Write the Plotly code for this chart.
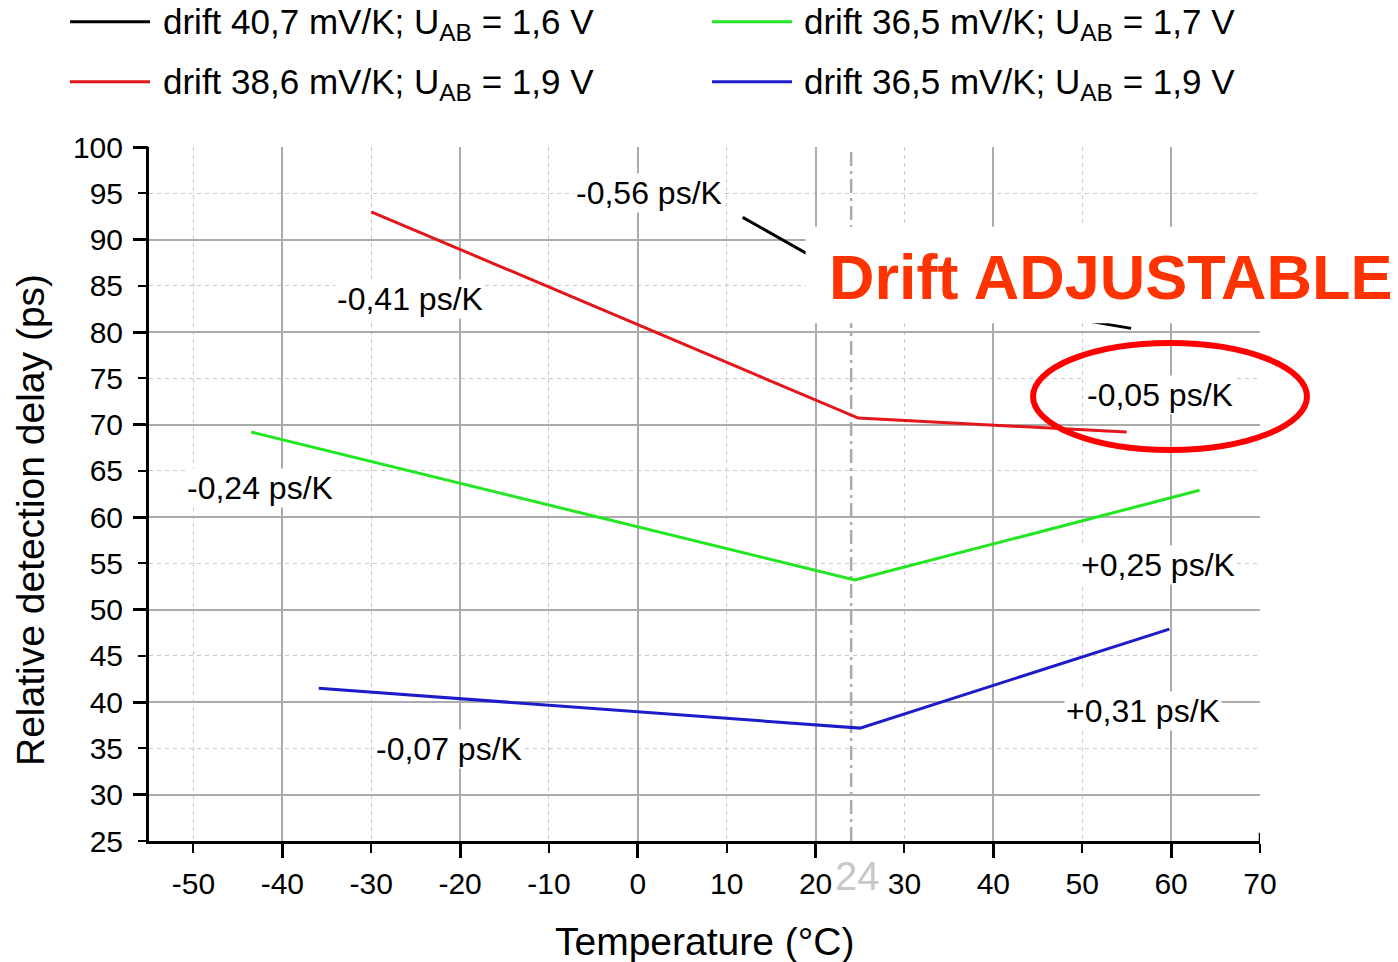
import plotly.graph_objects as go

# ---------------- data ----------------
black_t = [11.8, 24.5, 55.5]
black_v = [92.4, 85.5, 80.4]
red_t = [-30.0, 24.8, 55.0]
red_v = [93.0, 70.7, 69.2]
green_t = [-43.5, 24.4, 63.2]
green_v = [69.2, 53.2, 62.9]
blue_t = [-35.9, 25.0, 59.8]
blue_v = [41.5, 37.2, 47.9]

series_names = [
    "drift 40,7 mV/K; U<sub>AB</sub> = 1,6 V",
    "drift 38,6 mV/K; U<sub>AB</sub> = 1,9 V",
    "drift 36,5 mV/K; U<sub>AB</sub> = 1,7 V",
    "drift 36,5 mV/K; U<sub>AB</sub> = 1,9 V",
]
series_colors = ["#000000", "#e3161c", "#22e622", "#1c1cc8"]

slope_labels = ["-0,56 ps/K", "-0,41 ps/K", "-0,24 ps/K", "+0,25 ps/K",
                "+0,31 ps/K", "-0,07 ps/K", "-0,05 ps/K"]
REF_T = 24
x_range = [-55, 70]
y_range = [25, 100]
x_tick_vals = [-50, -40, -30, -20, -10, 0, 10, 20, 30, 40, 50, 60, 70]
x_tick_text = ["-50", "-40", "-30", "-20", "-10", "0", "10", "20", "30", "40",
               "50", "60", "70"]
y_tick_vals = [25, 30, 35, 40, 45, 50, 55, 60, 65, 70, 75, 80, 85, 90, 95, 100]
y_tick_text = [str(v) for v in y_tick_vals]
x_title = "Temperature (°C)"
y_title = "Relative detection delay (ps)"

# label anchor positions (data coords)
label_t = [1.3, -25.6, -42.5, 58.5, 56.8, -21.2, 58.7]
label_v = [95.0, 83.6, 63.15, 54.8, 39.05, 34.9, 73.2]

FONT = "Liberation Sans, Arial, sans-serif"

fig = go.Figure()

for t, v, c in zip([black_t, red_t, green_t, blue_t],
                   [black_v, red_v, green_v, blue_v], series_colors):
    fig.add_trace(go.Scatter(x=t, y=v, mode="lines", xaxis="x2", yaxis="y2",
                             line=dict(color=c, width=3), showlegend=False,
                             hoverinfo="skip"))

# dummy trace on main axes so they render
fig.add_trace(go.Scatter(x=[None], y=[None], mode="lines", showlegend=False))

fig.update_layout(
    width=1398, height=962,
    margin=dict(l=149, r=138, t=147, b=121),
    paper_bgcolor="white", plot_bgcolor="white",
    font=dict(family=FONT, color="black"),
    showlegend=False,
    xaxis=dict(range=x_range, tickmode="array", tickvals=x_tick_vals,
               ticktext=x_tick_text, ticks="outside", ticklen=9,
               tickwidth=2, tickcolor="black", showgrid=True, gridcolor="#c8c8c8",
               gridwidth=1, griddash="4px,4px", showline=True, linecolor="black",
               linewidth=3, zeroline=False, tickfont=dict(size=30),
               ticklabelstandoff=5, automargin=False),
    yaxis=dict(range=y_range, tickmode="array", tickvals=y_tick_vals,
               ticktext=y_tick_text, ticks="outside", ticklen=8,
               tickwidth=2, tickcolor="black", showgrid=True, gridcolor="#c8c8c8",
               gridwidth=1, griddash="4px,4px", showline=True, linecolor="black",
               linewidth=3, zeroline=False, tickfont=dict(size=30),
               ticklabelstandoff=9, automargin=False),
    xaxis2=dict(range=x_range, overlaying="x", anchor="y2", side="bottom",
                tick0=-40, dtick=20, ticks="outside", ticklen=16, tickwidth=3,
                tickcolor="black", showticklabels=False, showgrid=True,
                gridcolor="#ababab", gridwidth=1.5, showline=False, zeroline=False),
    yaxis2=dict(range=y_range, overlaying="y", anchor="x2", side="left",
                tick0=30, dtick=10, ticks="outside", ticklen=15, tickwidth=3,
                tickcolor="black", showticklabels=False, showgrid=True,
                gridcolor="#ababab", gridwidth=1.5, showline=False, zeroline=False),
)

shapes = []
# reference temperature line
shapes.append(dict(type="line", xref="x2", yref="paper", x0=REF_T, x1=REF_T, y0=0, y1=1,
                   line=dict(color="#aaaaaa", width=2.5, dash="14px,5px,3px,5px"),
                   layer="below"))
# white box behind the big headline
shapes.append(dict(type="rect", xref="paper", yref="paper", x0=0.591, x1=1.2,
                   y0=0.746, y1=0.885, fillcolor="white", line=dict(width=0),
                   layer="above"))
# red ellipse
shapes.append(dict(type="circle", xref="paper", yref="paper", x0=0.7957, x1=1.0423,
                   y0=0.5634, y1=0.7176, line=dict(color="#ff0000", width=6),
                   layer="above"))
# axis end cap at the right end of the x axis
shapes.append(dict(type="line", xref="x2", yref="paper", x0=x_range[1], x1=x_range[1],
                   y0=0, y1=0.012, line=dict(color="black", width=2.5), layer="above"))

annotations = []
for txt, t, v in zip(slope_labels, label_t, label_v):
    annotations.append(dict(text=txt, x=t, y=v, xref="x", yref="y", showarrow=False,
                            font=dict(size=32, color="black"), bgcolor="white",
                            xanchor="center", yanchor="middle"))

annotations.append(dict(text="<b>Drift ADJUSTABLE</b>", x=0.8659, y=0.8127,
                        xref="paper", yref="paper", showarrow=False,
                        font=dict(size=63, color="#ff3300"),
                        xanchor="center", yanchor="middle"))

annotations.append(dict(text=str(REF_T), x=REF_T, y=-0.0508, xref="x", yref="paper",
                        xshift=6, showarrow=False, font=dict(size=40, color="#c8c8c8"),
                        xanchor="center", yanchor="middle"))

# axis titles
annotations.append(dict(text=x_title, x=0.5009, y=-0.1441, xref="paper", yref="paper",
                        showarrow=False, font=dict(size=39, color="black"),
                        xanchor="center", yanchor="middle"))
annotations.append(dict(text=y_title, x=-0.1071, y=0.4625,
                        xref="paper", yref="paper", showarrow=False, textangle=-90,
                        font=dict(size=39, color="black"),
                        xanchor="center", yanchor="middle"))

# custom legend (2 columns x 2 rows)
leg_line_x = [(-0.0711, 0.0009), (0.5068, 0.5788)]
leg_text_x = [0.0108, 0.5878]
leg_row_y = [1.1775, 1.0911]
order = [(0, 0, 0), (1, 0, 1), (2, 1, 0), (3, 1, 1)]  # (series, col, row)
for si, col, row in order:
    shapes.append(dict(type="line", xref="paper", yref="paper",
                       x0=leg_line_x[col][0], x1=leg_line_x[col][1],
                       y0=leg_row_y[row] + 0.003, y1=leg_row_y[row] + 0.003,
                       line=dict(color=series_colors[si], width=3), layer="above"))
    annotations.append(dict(text=series_names[si], x=leg_text_x[col], y=leg_row_y[row],
                            xref="paper", yref="paper", showarrow=False,
                            font=dict(size=35, color="black"),
                            xanchor="left", yanchor="middle"))

fig.update_layout(shapes=shapes, annotations=annotations)
fig.write_html("out.html")
